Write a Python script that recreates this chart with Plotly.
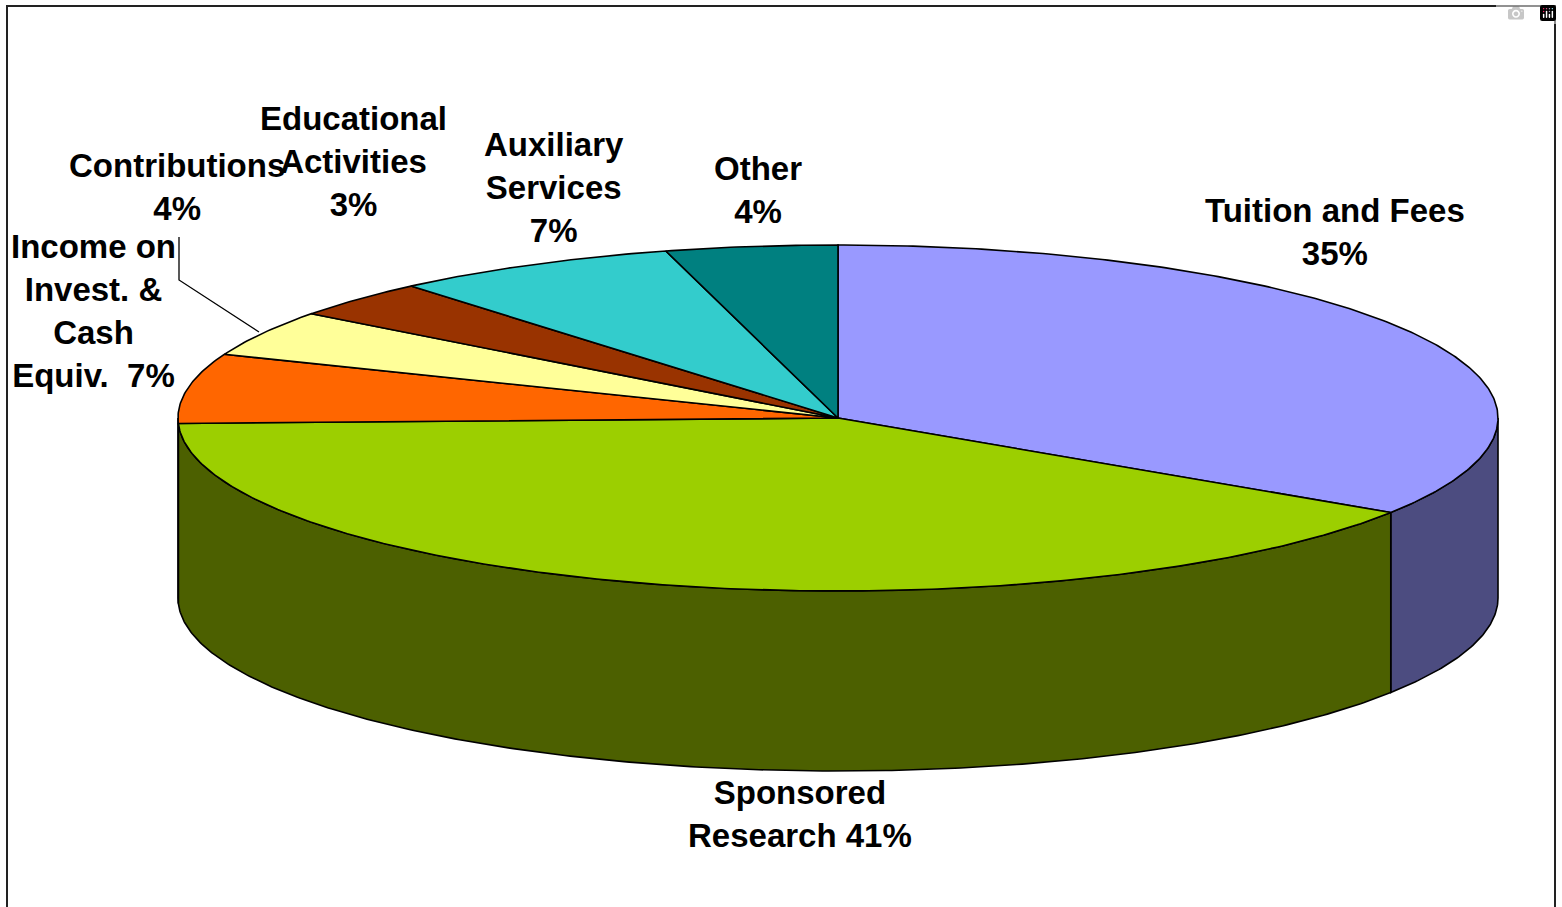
import numpy as np
import plotly.graph_objects as go

# clockwise from 12 o'clock; shares are what the drawn slices measure, labels are what the chart prints
CATEGORIES = ["Tuition and Fees", "Sponsored Research", "Income on Invest. & Cash Equiv.",
              "Contributions", "Educational Activities", "Auxiliary Services", "Other"]
SHARES = [34.2, 40.3, 6.5, 4.3, 3.5, 7.0, 4.2]
LABELS = ["Tuition and Fees<br>35%", "Sponsored<br>Research 41%", "Income on<br>Invest. &<br>Cash<br>Equiv.  7%",
          "Contributions<br>4%", "Educational<br>Activities<br>3%", "Auxiliary<br>Services<br>7%", "Other<br>4%"]
TOP_COLORS = ["#9999FF", "#9CCF00", "#FF6600", "#FFFF99", "#993300", "#33CCCC", "#008080"]
SIDE_COLORS = ["#4C4C80", "#4C6000", "#803300", "#808050", "#4C1A00", "#1A6666", "#004040"]

LABEL_X = [1335, 800, 93, 177, 353, 554, 758]
LABEL_Y = [232, 814, 311, 187, 161, 187, 190]

CX, CY = 838, 418
RX, RY = 660, 173
DEPTH = 180
OUTLINE = dict(color="#000000", width=1.6)


def rim(a0, a1, drop=0):
    a = np.radians(np.linspace(a0, a1, max(int(abs(a1 - a0) * 2), 2)))
    return CX + RX * np.sin(a), CY - RY * np.cos(a) + drop


def add_poly(fig, x, y, color):
    fig.add_trace(go.Scatter(
        x=x, y=y, mode="lines", fill="toself", fillcolor=color,
        line=OUTLINE, hoverinfo="skip", showlegend=False,
    ))


fig = go.Figure()
edges = np.concatenate([[0], np.cumsum(SHARES) / sum(SHARES) * 360])

# side walls first, only the front half of the disc shows them
for i in range(len(SHARES)):
    a0, a1 = max(edges[i], 90), min(edges[i + 1], 270)
    if a1 <= a0:
        continue
    xt, yt = rim(a0, a1)
    xb, yb = rim(a1, a0, DEPTH)
    add_poly(fig, np.r_[xt, xb, xt[0]], np.r_[yt, yb, yt[0]], SIDE_COLORS[i])

for i in range(len(SHARES)):
    xt, yt = rim(edges[i], edges[i + 1])
    add_poly(fig, np.r_[CX, xt, CX], np.r_[CY, yt, CY], TOP_COLORS[i])

# leader line for the income label
fig.add_trace(go.Scatter(
    x=[179, 179, 259], y=[237, 280, 332], mode="lines",
    line=dict(color="#000000", width=1.3), hoverinfo="skip", showlegend=False,
))

for text, x, y in zip(LABELS, LABEL_X, LABEL_Y):
    fig.add_annotation(
        x=x, y=y, text=text, showarrow=False, xanchor="center", yanchor="middle",
        font=dict(family="Liberation Sans", size=33, color="#000000", weight="bold"),
    )

fig.update_layout(
    width=1562, height=907,
    margin=dict(t=0, b=0, l=0, r=0),
    paper_bgcolor="#FFFFFF",
    plot_bgcolor="#FFFFFF",
    xaxis=dict(range=[0, 1562], visible=False, fixedrange=True),
    yaxis=dict(range=[907, 0], visible=False, fixedrange=True),
    shapes=[dict(type="rect", x0=7, y0=6, x1=1555, y1=930, line=dict(color="#222222", width=2),
                 layer="below")],
)
# the page's default body margin would push the figure 8px off
fig.write_html("out.html", post_script="document.body.style.margin='0';")
